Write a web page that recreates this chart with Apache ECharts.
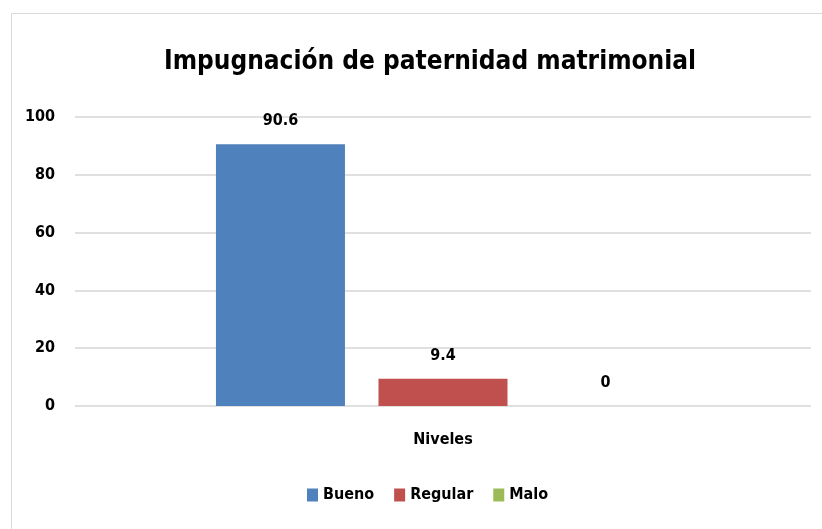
<!DOCTYPE html>
<html>
<head>
<meta charset="utf-8">
<script src="https://cdn.jsdelivr.net/npm/echarts@6/dist/echarts.min.js"></script>
<style>
  html, body { margin: 0; padding: 0; background: #fff; }
  #view { width: 822px; height: 529px; }
</style>
</head>
<body>
<div id="view"></div>
<script>
let categories = ["Niveles"];
let seriesNames = ["Bueno", "Regular", "Malo"];
let seriesValues = [[90.6], [9.4], [0]];
let seriesColors = ["#4F81BD", "#C0504D", "#9BBB59"];

let font = "'DejaVu Sans Condensed', sans-serif";

let myChart = echarts.init(document.getElementById("view"));

let seriesList = seriesNames.map((name, i) => {
  return {
    name: name,
    type: "bar",
    data: seriesValues[i],
    barWidth: 129,
    barGap: "26%",
    itemStyle: { color: seriesColors[i] },
    label: {
      show: true,
      position: "top",
      distance: 15,
      color: "#000",
      fontFamily: font,
      fontWeight: "bold",
      fontSize: 16,
    },
  };
});

let option = {
  backgroundColor: "#fff",
  animation: false,
  graphic: [
    {
      type: "rect",
      shape: { x: 11.5, y: 13.5, width: 830, height: 540 },
      style: { fill: "none", stroke: "#d9d9d9", lineWidth: 1 },
      silent: true,
    },
  ],
  title: {
    text: "Impugnación de paternidad matrimonial",
    left: 425,
    textAlign: "center",
    top: 44,
    textStyle: {
      fontFamily: font,
      fontWeight: "bold",
      fontSize: 26,
      color: "#000",
    },
  },
  legend: {
    data: seriesNames,
    bottom: 21,
    left: 302,
    icon: "rect",
    itemWidth: 11,
    itemHeight: 13,
    itemGap: 20,
    textStyle: {
      fontFamily: font,
      fontWeight: "bold",
      fontSize: 16,
      color: "#000",
    },
  },
  grid: {
    left: 75,
    right: 11,
    top: 117,
    bottom: 123,
  },
  xAxis: {
    type: "category",
    data: categories,
    axisLine: { show: false },
    axisTick: { show: false },
    axisLabel: {
      margin: 26,
      color: "#000",
      fontFamily: font,
      fontWeight: "bold",
      fontSize: 16,
    },
  },
  yAxis: {
    type: "value",
    min: 0,
    max: 100,
    interval: 20,
    axisLine: { show: false },
    axisTick: { show: false },
    splitLine: { lineStyle: { color: "#e0e0e0", width: 2 } },
    axisLabel: {
      margin: 20,
      color: "#000",
      fontFamily: font,
      fontWeight: "bold",
      fontSize: 16,
    },
  },
  series: seriesList,
};
myChart.setOption(option);
</script>
</body>
</html>
